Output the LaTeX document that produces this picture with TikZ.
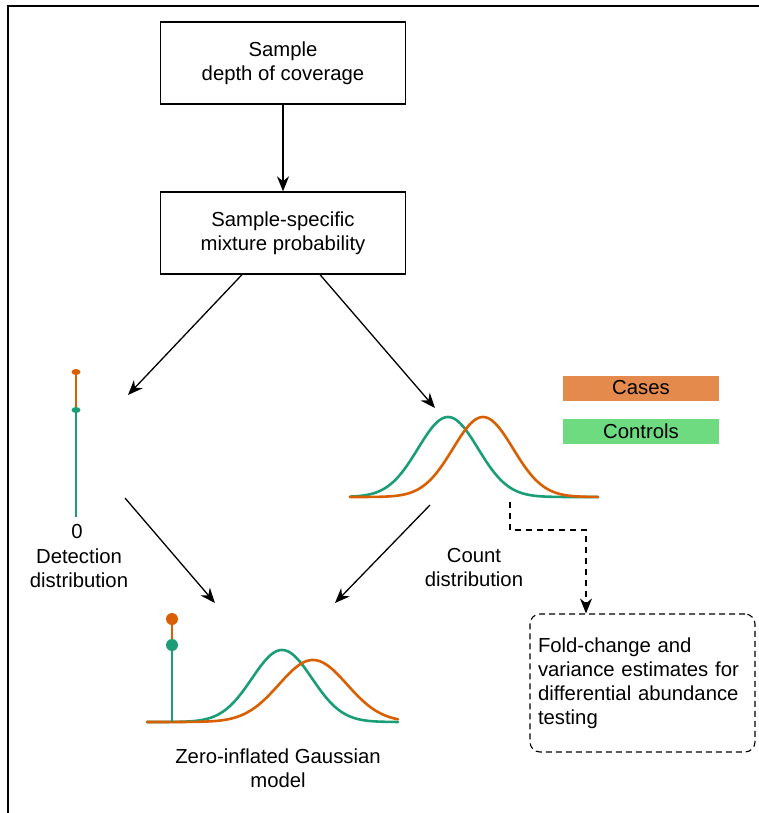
\documentclass[tikz,border=0pt]{standalone}
\usepackage{fontspec}
\setmainfont{Liberation Sans}
\usetikzlibrary{arrows.meta}
\definecolor{caseline}{HTML}{D95F02}
\definecolor{ctrlline}{HTML}{1B9E77}
\definecolor{casefill}{HTML}{E38A4C}
\definecolor{ctrlfill}{HTML}{6EDB80}
\newcommand{\gauss}[4]{#1-#2*exp(-0.5*((\x-#3)/#4)^2)}

\begin{document}
\begin{tikzpicture}[x=1pt,y=-1pt,
  every node/.style={font=\fontsize{20.3}{24}\selectfont},
  box/.style={draw,line width=1.3pt,minimum width=245pt,minimum height=82pt,align=center},
  legbox/.style={minimum width=156pt,minimum height=25pt,inner sep=0pt},
  arr/.style={-{Stealth[length=15pt,width=12pt]},line width=1.3pt},
  curve/.style={line width=2.6pt,line cap=round}]
\useasboundingbox (0,0) rectangle (759,813);
\draw[line width=1.3pt] (8,813) -- (8,6) -- (759,6);

\node[box] (depth) at (283,63) {Sample\\depth of coverage};
\node[box] (mix) at (283,233) {Sample-specific\\mixture probability};

% detection distribution
\draw[ctrlline,line width=2.2pt] (76,517) -- (76,410);
\draw[caseline,line width=2.2pt] (76,410) -- (76,372);
\fill[caseline] (76,372) ellipse (4.5pt and 3pt);
\fill[ctrlline] (76,410) ellipse (4.5pt and 3pt);
\node (zero) at (77,532) {0};
\node[align=center] (detlbl) at (79,568) {Detection\\distribution};

% count distribution
\draw[curve,ctrlline] plot[domain=350:598,samples=120] (\x,{\gauss{497}{80}{448}{30}});
\draw[curve,caseline] plot[domain=350:598,samples=120] (\x,{\gauss{497}{80}{483}{30}});
\node[align=center] (cntlbl) at (474,568) {Count\\distribution};

% legend
\node[legbox,fill=casefill] (cases) at (641,388) {Cases};
\node[legbox,fill=ctrlfill] (ctrls) at (641,431) {Controls};

% zero-inflated model
\draw[curve,ctrlline] plot[domain=147:398,samples=120] (\x,{\gauss{722}{72}{282}{30}});
\draw[curve,caseline] plot[domain=147:398,samples=120] (\x,{\gauss{722}{62}{313}{34}});
\draw[ctrlline,line width=2.4pt] (172,722) -- (172,645);
\draw[caseline,line width=2.4pt] (172,645) -- (172,619);
\fill[caseline] (172,619) circle (6pt);
\fill[ctrlline] (172,645) circle (6pt);
\node[align=center] (ziglbl) at (278,768) {Zero-inflated Gaussian\\model};

\node[draw,line width=1.1pt,dash pattern=on 6pt off 4pt,rounded corners=10pt,
  minimum width=225pt,minimum height=138pt,inner xsep=8pt,text width=209pt,align=left]
  (fold) at (642.5,683) {Fold-change and\\variance estimates for\\differential abundance\\testing};

\coordinate (d1) at (128,395);
\coordinate (d2) at (125,498);
\coordinate (c1) at (435,408);
\coordinate (c2) at (430,505);
\coordinate (c3) at (510,502);
\coordinate (turn) at (586,530);
\coordinate (z1) at (215,603);
\coordinate (z2) at (335,603);

\draw[arr] (depth) -- (mix);
\draw[arr] ([xshift=-41pt]mix.south) -- (d1);
\draw[arr] ([xshift=37pt]mix.south) -- (c1);
\draw[arr] (d2) -- (z1);
\draw[arr] (c2) -- (z2);
\draw[arr,dash pattern=on 6pt off 5pt] (c3) |- (turn) -- (turn |- fold.north);
\end{tikzpicture}
\end{document}
